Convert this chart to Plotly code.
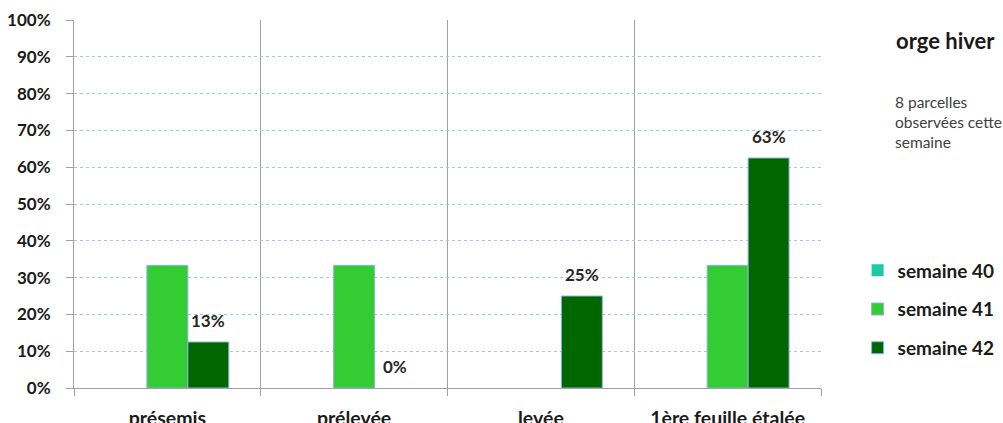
import plotly.graph_objects as go

categories = ["présemis", "prélevée", "levée", "1ère feuille étalée"]
series_names = ["semaine 40", "semaine 41", "semaine 42"]
semaine_40 = [0, 0, 0, 0]
semaine_41 = [1/3, 1/3, 0, 1/3]
semaine_42 = [0.125, 0, 0.25, 0.625]
y_ticks = [0, 0.1, 0.2, 0.3, 0.4, 0.5, 0.6, 0.7, 0.8, 0.9, 1.0]

colors = ["#1FC8A6", "#33CC33", "#006600"]
FONT = "Lato"
TXT = "#1a1a1a"

fig = go.Figure()
for name, vals, col in zip(series_names, [semaine_40, semaine_41, semaine_42], colors):
    fig.add_trace(go.Bar(
        x=categories, y=vals, name=name, legendgroup=name,
        marker=dict(color=col,
                    line=dict(color="#8EB4E3", width=[1 if v > 0 else 0 for v in vals])),
        hoverinfo="skip",
    ))

bargap = 0.342
bar_w = (1 - bargap) / 3


def pct(v):
    return f"{int(v * 100 + 0.5)}%"


for i, v in enumerate(semaine_42):
    fig.add_annotation(
        x=i + bar_w, y=v, xref="x", yref="y",
        text=pct(v),
        showarrow=False, yanchor="bottom", yshift=9,
        font=dict(family=FONT, size=17, color="#262626", weight="bold"),
    )

fig.add_annotation(
    x=1.166, y=0.943, xref="paper", yref="paper", text="orge hiver",
    showarrow=False, xanchor="center", yanchor="middle",
    font=dict(family=FONT, size=22, color=TXT, weight="bold"),
)
fig.add_annotation(
    x=1.0964, y=0.808, xref="paper", yref="paper",
    text="8 parcelles<br>observées cette<br>semaine",
    showarrow=False, xanchor="left", yanchor="top", align="left",
    font=dict(family=FONT, size=15.5, color="#404040"),
)

fig.update_layout(
    width=1003, height=423,
    margin=dict(l=74, r=182, t=20, b=35, autoexpand=False),
    paper_bgcolor="white", plot_bgcolor="white",
    barmode="group", bargap=bargap, bargroupgap=0,
    font=dict(family=FONT, size=16, color=TXT),
    showlegend=True,
    legend=dict(
        x=1.049, y=0.371, xanchor="left", yanchor="top",
        font=dict(family=FONT, size=19, color=TXT, weight="bold"),
        tracegroupgap=11, bgcolor="rgba(0,0,0,0)",
    ),
    xaxis=dict(
        type="category", tickson="boundaries", automargin=False,
        showgrid=True, gridcolor="#A0A0A0", gridwidth=1,
        showline=True, linecolor="#A0A0A0", linewidth=1,
        ticks="outside", ticklen=7, tickcolor="#A0A0A0",
        tickfont=dict(family=FONT, size=19.5, color=TXT, weight="bold"),
        ticklabelstandoff=13,
    ),
    yaxis=dict(
        range=[0, 1], tickvals=y_ticks, tickformat=".0%", automargin=False,
        showgrid=True, gridcolor="#A9C4E8", gridwidth=1, griddash="dot",
        zeroline=False,
        showline=True, linecolor="#A0A0A0", linewidth=1,
        ticks="outside", ticklen=7, tickcolor="#A0A0A0",
        tickfont=dict(family=FONT, size=17, color=TXT, weight="bold"),
        ticklabelstandoff=12,
    ),
)

fig.write_html(
    "out.html",
    config={"displayModeBar": False},
    post_script="document.body.style.margin='0';document.body.style.overflow='hidden';",
)
